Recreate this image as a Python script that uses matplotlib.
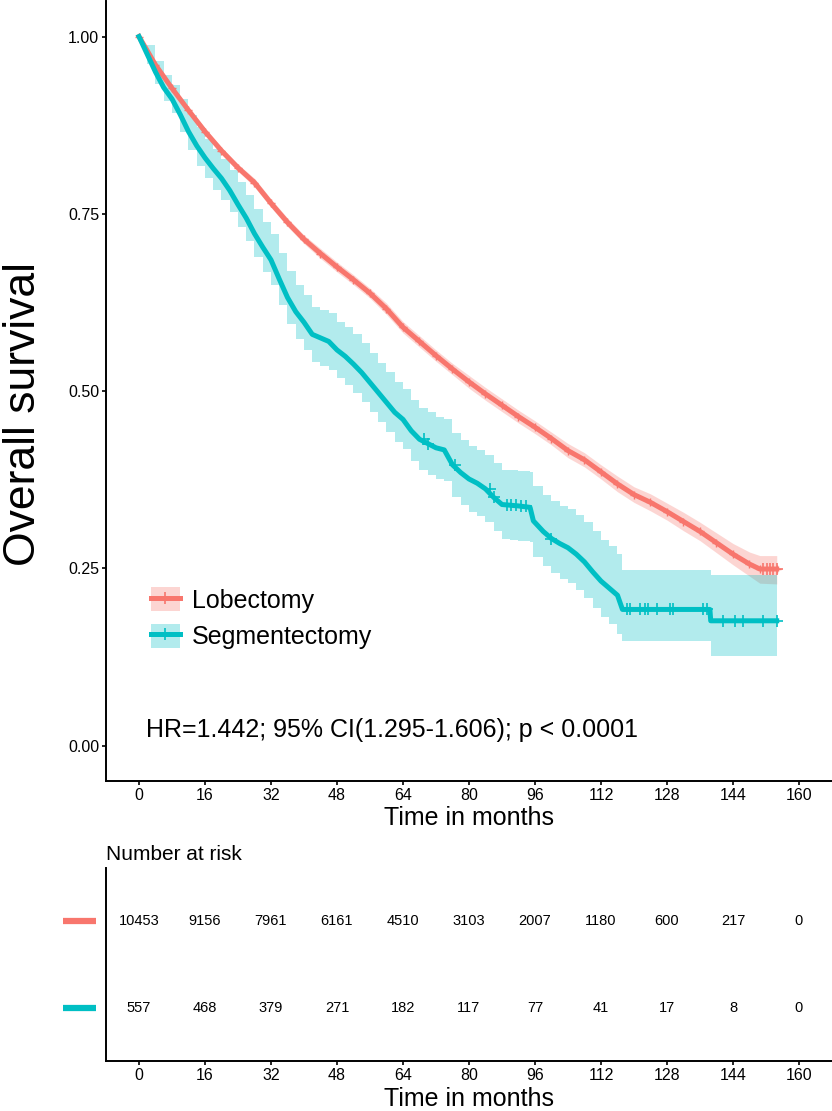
import matplotlib
matplotlib.use("Agg")
import matplotlib.pyplot as plt
import matplotlib.transforms as mtransforms
import numpy as np
from matplotlib.lines import Line2D
from matplotlib.patches import Patch

plt.rcParams["font.family"] = ["Liberation Sans", "DejaVu Sans"]

# ---- data ----
groups = ["Lobectomy", "Segmentectomy"]
colors = ["#F8766D", "#00BFC4"]

# lobectomy: survival estimate and 95% band (months)
lob_t = [0, 4, 8, 12, 16, 20, 24, 28, 32, 36, 40, 44, 48, 52, 56, 60, 64, 68,
         72, 76, 80, 84, 88, 92, 96, 100, 104, 108, 112, 116, 120, 124, 128,
         132, 136, 140, 144, 148, 150.5, 154.6]
lob_s = [1.000, 0.960, 0.927, 0.896, 0.866, 0.839, 0.815, 0.794, 0.765, 0.738,
         0.714, 0.694, 0.675, 0.657, 0.638, 0.616, 0.590, 0.570, 0.550, 0.531,
         0.513, 0.496, 0.480, 0.464, 0.449, 0.433, 0.416, 0.403, 0.386, 0.369,
         0.354, 0.343, 0.330, 0.316, 0.302, 0.286, 0.270, 0.256, 0.249, 0.249]
lob_lo = [1.000, 0.957, 0.923, 0.892, 0.861, 0.834, 0.810, 0.788, 0.759, 0.732,
          0.708, 0.687, 0.668, 0.650, 0.631, 0.608, 0.582, 0.562, 0.542, 0.523,
          0.504, 0.487, 0.471, 0.455, 0.440, 0.424, 0.406, 0.393, 0.376, 0.358,
          0.343, 0.331, 0.318, 0.303, 0.289, 0.272, 0.255, 0.239, 0.229, 0.228]
lob_hi = [1.000, 0.963, 0.931, 0.900, 0.871, 0.844, 0.820, 0.800, 0.771, 0.744,
          0.720, 0.701, 0.682, 0.664, 0.645, 0.624, 0.598, 0.578, 0.558, 0.539,
          0.522, 0.505, 0.489, 0.473, 0.458, 0.442, 0.426, 0.413, 0.396, 0.380,
          0.365, 0.355, 0.342, 0.329, 0.315, 0.300, 0.285, 0.273, 0.268, 0.268]
lob_censor = [151.3, 152.2, 153.0, 153.8, 154.6]

# segmentectomy: survival estimate and 95% band (months)
seg_t = [0, 2, 4, 6, 8, 10, 12, 14, 16, 18, 20, 22, 24, 26, 28, 30, 32, 34, 36,
         38, 40, 42, 44, 46, 48, 50, 52, 54, 56, 58, 60, 62, 64, 66, 68, 70, 72,
         74, 76, 78, 80, 82, 84, 86, 88, 90, 92, 94.8, 95.6, 98, 100, 102, 104,
         106, 108, 110, 112, 114, 116, 117.2, 138.4, 138.6, 154.6]
seg_s = [1.000, 0.975, 0.950, 0.928, 0.912, 0.890, 0.866, 0.846, 0.829, 0.814,
         0.800, 0.783, 0.763, 0.744, 0.722, 0.703, 0.685, 0.658, 0.632, 0.612,
         0.597, 0.580, 0.575, 0.570, 0.558, 0.549, 0.538, 0.526, 0.512, 0.498,
         0.484, 0.470, 0.460, 0.444, 0.432, 0.426, 0.420, 0.417, 0.396, 0.385,
         0.376, 0.370, 0.362, 0.350, 0.340, 0.339, 0.338, 0.336, 0.317, 0.302,
         0.292, 0.285, 0.279, 0.270, 0.259, 0.245, 0.232, 0.222, 0.212, 0.192,
         0.192, 0.176, 0.176]
seg_lo = [1.000, 0.962, 0.933, 0.909, 0.892, 0.866, 0.840, 0.818, 0.800, 0.784,
          0.770, 0.752, 0.731, 0.711, 0.689, 0.668, 0.649, 0.621, 0.595, 0.574,
          0.558, 0.541, 0.536, 0.530, 0.518, 0.508, 0.497, 0.485, 0.470, 0.456,
          0.442, 0.428, 0.418, 0.401, 0.389, 0.382, 0.376, 0.373, 0.351, 0.340,
          0.330, 0.324, 0.315, 0.302, 0.292, 0.290, 0.289, 0.287, 0.266, 0.253,
          0.243, 0.235, 0.229, 0.219, 0.208, 0.194, 0.181, 0.171, 0.158, 0.148,
          0.148, 0.127, 0.127]
seg_hi = [1.000, 0.988, 0.966, 0.946, 0.932, 0.912, 0.890, 0.872, 0.856, 0.842,
          0.828, 0.812, 0.795, 0.776, 0.757, 0.738, 0.721, 0.695, 0.670, 0.650,
          0.635, 0.619, 0.614, 0.610, 0.598, 0.590, 0.580, 0.568, 0.554, 0.540,
          0.527, 0.513, 0.503, 0.487, 0.476, 0.470, 0.464, 0.461, 0.441, 0.431,
          0.422, 0.417, 0.410, 0.398, 0.389, 0.388, 0.387, 0.386, 0.366, 0.354,
          0.345, 0.338, 0.333, 0.325, 0.315, 0.302, 0.290, 0.281, 0.270, 0.248,
          0.248, 0.240, 0.240]
seg_censor = [69.0, 70.0, 76.5, 85.0, 86.0, 89.1, 90.3, 91.5, 92.7, 93.8, 100.0,
              118.2, 119.0, 121.5, 122.7, 123.5, 125.5, 128.7, 129.5, 136.8,
              137.6, 141.6, 144.5, 146.5, 151.3, 154.6]

risk_times = [0, 16, 32, 48, 64, 80, 96, 112, 128, 144, 160]
risk_lob = [10453, 9156, 7961, 6161, 4510, 3103, 2007, 1180, 600, 217, 0]
risk_seg = [557, 468, 379, 271, 182, 117, 77, 41, 17, 8, 0]

hr_text = "HR=1.442; 95% CI(1.295-1.606); p < 0.0001"


def step_value(times, values, at):
    # value of a right-continuous step function
    idx = np.searchsorted(times, at, side="right") - 1
    return np.asarray(values)[idx]


fig = plt.figure(figsize=(8.32, 11.11), dpi=100)
ax = fig.add_axes([0.1274, 0.297, 0.8726, 0.702])
ax_t = fig.add_axes([0.1274, 0.045, 0.8726, 0.1737])

band_alpha = 0.3
lw = 3.6

# confidence bands
ax.fill_between(lob_t, lob_lo, lob_hi, color=colors[0], alpha=band_alpha, lw=0)
ax.fill_between(seg_t, seg_lo, seg_hi, step="post", color=colors[1],
                alpha=band_alpha, lw=0)

# survival curves
ax.plot(lob_t, lob_s, color=colors[0], lw=lw, marker="+", ms=6, mew=1.0)
ax.plot(seg_t, seg_s, color=colors[1], lw=lw)

# censor marks
ax.plot(lob_censor, step_value(lob_t, lob_s, lob_censor), ls="none",
        marker="+", ms=8, mew=1.2, color=colors[0])
ax.plot(seg_censor, step_value(seg_t, seg_s, seg_censor), ls="none",
        marker="+", ms=8, mew=1.2, color=colors[1])

ax.text(1.7, 0.012, hr_text, fontsize=18, ha="left", va="baseline")

# legend
handles = [
    (Patch(facecolor=colors[i], alpha=band_alpha, lw=0),
     Line2D([], [], color=colors[i], lw=lw, marker="+", ms=8, mew=1.2))
    for i in range(2)
]
ax.legend(handles, groups, loc="center left", bbox_to_anchor=(0.0616, 0.2086),
          frameon=False, fontsize=18, borderpad=0, borderaxespad=0,
          handlelength=1.16, handleheight=1.1, handletextpad=0.48,
          labelspacing=0.44)

ax.set_xlim(-8, 168)
ax.set_ylim(-0.05, 1.05)
ax.set_xticks(risk_times)
ax.set_yticks([0, 0.25, 0.5, 0.75, 1.0])
ax.set_yticklabels(["0.00", "0.25", "0.50", "0.75", "1.00"])
ax.set_xlabel("Time in months", fontsize=18, labelpad=2.5)
ax.set_ylabel("Overall survival", fontsize=32)
ax.yaxis.set_label_coords(-0.086, 0.47)

# risk table
for row, (counts, col) in enumerate(zip([risk_lob, risk_seg], colors)):
    y = 2 - row
    for t, n in zip(risk_times, counts):
        ax_t.text(t, y, str(n), ha="center", va="center", fontsize=10.5)
    trans = mtransforms.blended_transform_factory(ax_t.transAxes, ax_t.transData)
    ax_t.plot([-0.0592, -0.0138], [y, y], color=col, lw=4.5, transform=trans,
              clip_on=False, solid_capstyle="butt")

ax_t.set_xlim(-8, 168)
ax_t.set_ylim(0.4, 2.6)
ax_t.set_xticks(risk_times)
ax_t.set_yticks([])
ax_t.set_xlabel("Time in months", fontsize=18, labelpad=3)
ax_t.set_title("Number at risk", loc="left", fontsize=15, pad=6)

for a in (ax, ax_t):
    for side in ("top", "right"):
        a.spines[side].set_visible(False)
    for side in ("left", "bottom"):
        a.spines[side].set_linewidth(1.4)
        a.spines[side].set_color("black")
    a.tick_params(axis="both", direction="out", length=3, width=1.2,
                  pad=2, labelsize=11.5, colors="black")
    a.set_facecolor("white")

fig.savefig("out.png", dpi=100)
